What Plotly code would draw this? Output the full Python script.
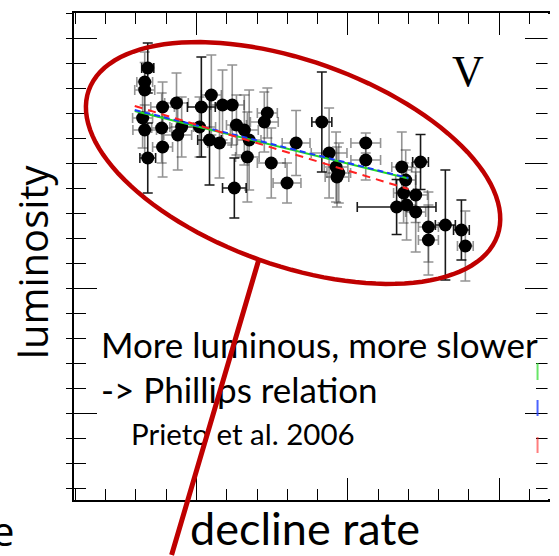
import math
import plotly.graph_objects as go

# ---- data (decline rate, V-band absolute magnitude) ----
decline = [0.839, 0.829, 0.829, 0.822, 0.829, 0.839, 0.888, 0.934, 0.885, 0.888,
           0.938, 0.951, 1.016, 1.049, 1.086, 1.010, 1.043, 1.076, 1.125, 1.118,
           1.132, 1.158, 1.174, 1.168, 1.224, 1.234, 1.247, 1.299, 1.329, 1.414,
           1.438, 1.461, 1.464, 1.470, 1.559, 1.559, 1.678, 1.691, 1.740, 1.684,
           1.724, 1.661, 1.694, 1.724, 1.766, 1.766, 1.822, 1.875, 1.888]
mag_v = [-19.880, -19.824, -19.792, -19.680, -19.632, -19.520, -19.724, -19.740, -19.640, -19.564,
         -19.612, -19.644, -19.724, -19.772, -19.732, -19.644, -19.592, -19.580, -19.400, -19.732,
         -19.652, -19.632, -19.592, -19.524, -19.664, -19.700, -19.500, -19.420, -19.580, -19.664,
         -19.540, -19.484, -19.444, -19.460, -19.580, -19.512, -19.484, -19.432, -19.504, -19.380,
         -19.372, -19.324, -19.332, -19.304, -19.244, -19.192, -19.252, -19.232, -19.168]
err_decline = [0.020, 0.026, 0.033, 0.033, 0.039, 0.026, 0.039, 0.039, 0.033, 0.033,
               0.046, 0.039, 0.046, 0.033, 0.039, 0.053, 0.039, 0.039, 0.039, 0.039,
               0.033, 0.046, 0.039, 0.039, 0.046, 0.033, 0.046, 0.046, 0.046, 0.033,
               0.059, 0.039, 0.039, 0.039, 0.049, 0.049, 0.033, 0.033, 0.026, 0.033,
               0.039, 0.130, 0.033, 0.033, 0.033, 0.033, 0.033, 0.026, 0.026]
err_mag = [0.10, 0.12, 0.11, 0.12, 0.10, 0.14, 0.10, 0.12, 0.14, 0.12,
           0.14, 0.12, 0.20, 0.16, 0.14, 0.12, 0.18, 0.14, 0.12, 0.16,
           0.12, 0.14, 0.20, 0.18, 0.12, 0.10, 0.14, 0.08, 0.13, 0.20,
           0.18, 0.14, 0.12, 0.12, 0.04, 0.08, 0.14, 0.12, 0.11, 0.12,
           0.11, 0.11, 0.14, 0.16, 0.14, 0.14, 0.22, 0.12, 0.14]
# points whose error bars are drawn in solid black in the original
dark_bars = {0, 5, 12, 16, 18, 29, 38, 41, 46, 47}

# fitted Phillips relations
fit_x = [0.796, 1.700]
fit_blue = [-19.712, -19.440]
fit_green = [-19.708, -19.438]
fit_red = [-19.728, -19.396]

# ---- layout geometry (pixels) ----
W, H = 559, 556
L, R, T, B = 74, 550, 13, 500
def pxx(x):
    return (x - L) / (R - L)
def pxy(y):
    return (B - y) / (B - T)

RED = "#bf0000"

fig = go.Figure()
for dark in (False, True):
    idx = [i for i in range(len(decline)) if (i in dark_bars) == dark]
    col = "rgba(0,0,0,0.9)" if dark else "rgba(40,40,40,0.5)"
    fig.add_trace(go.Scatter(
        x=[decline[i] for i in idx], y=[mag_v[i] for i in idx], mode="markers",
        marker=dict(color="black", size=13),
        error_x=dict(type="data", array=[err_decline[i] for i in idx], color=col, thickness=1.6, width=5),
        error_y=dict(type="data", array=[err_mag[i] for i in idx], color=col, thickness=1.6, width=5),
        showlegend=False, hoverinfo="skip"))
fig.add_trace(go.Scatter(x=fit_x, y=fit_green, mode="lines",
                         line=dict(color="#22dd22", width=2), showlegend=False))
fig.add_trace(go.Scatter(x=fit_x, y=fit_blue, mode="lines",
                         line=dict(color="#1a3cff", width=2, dash="6px,4px"), showlegend=False))
fig.add_trace(go.Scatter(x=fit_x, y=fit_red, mode="lines",
                         line=dict(color="#ff2020", width=2, dash="8px,6px"), showlegend=False))

axis_common = dict(showgrid=False, zeroline=False, showticklabels=False,
                   showline=True, linecolor="black", linewidth=1.5,
                   ticks="inside", tickcolor="black", tickwidth=1.3, mirror="ticks")

fig.update_layout(
    width=W, height=H,
    margin=dict(l=L, r=W - R, t=T, b=H - B),
    paper_bgcolor="white", plot_bgcolor="white",
    xaxis=dict(range=[0.5954, 2.161], tick0=0, dtick=0.5, ticklen=22,
               minor=dict(dtick=0.1, ticklen=11, ticks="inside", tickcolor="black", tickwidth=1.2),
               **axis_common),
    yaxis=dict(range=[-18.152, -20.1], tick0=-20, dtick=0.5, ticklen=23,
               minor=dict(dtick=0.1, ticklen=12, ticks="inside", tickcolor="black", tickwidth=1.2),
               **axis_common),
    yaxis2=dict(overlaying="y", side="left", range=[-18.152, -20.1], tick0=-20, dtick=0.5,
                ticks="outside", ticklen=7, tickcolor="black", tickwidth=1.3,
                minor=dict(dtick=0.1, ticklen=7, ticks="outside", tickcolor="black", tickwidth=1.2),
                showgrid=False, zeroline=False, showticklabels=False, showline=False),
)
fig.add_trace(go.Scatter(x=[None], y=[None], yaxis="y2", showlegend=False))

# cover the right frame line (it is hidden in the original)
fig.add_shape(type="line", xref="paper", yref="paper", x0=pxx(550.8), x1=pxx(550.8),
              y0=pxy(T + 1), y1=pxy(B - 1), line=dict(color="white", width=2.5), layer="above")

# legend fragments at the right edge
for col, y0, y1 in [("rgba(40,220,40,0.7)", 363, 380), ("rgba(30,60,255,0.8)", 400, 416),
                    ("rgba(255,40,40,0.6)", 437, 453)]:
    fig.add_shape(type="line", xref="paper", yref="paper", x0=pxx(539.5), x1=pxx(539.5),
                  y0=pxy(y0), y1=pxy(y1), line=dict(color=col, width=2), layer="above")

# red ellipse
cx, cy, a, b, th = 294, 163, 217.7, 102.5, math.radians(19.5)
pts = []
for i in range(121):
    t = 2 * math.pi * i / 120
    x = cx + a * math.cos(t) * math.cos(th) - b * math.sin(t) * math.sin(th)
    y = cy + a * math.cos(t) * math.sin(th) + b * math.sin(t) * math.cos(th)
    pts.append(f"{pxx(x):.5f},{pxy(y):.5f}")
path = "M " + " L ".join(pts) + " Z"
fig.add_shape(type="path", path=path, xref="paper", yref="paper",
              line=dict(color=RED, width=4.5), layer="above")

# texts
def ann(text, x, y, size, family="Lato", xanchor="left", yanchor="middle", angle=0, color="black"):
    fig.add_annotation(text=text, x=pxx(x), y=pxy(y), xref="paper", yref="paper",
                       showarrow=False, xanchor=xanchor, yanchor=yanchor, textangle=angle,
                       font=dict(family=family, size=size, color=color))

ann("V", 470, 71, 44, family="Liberation Serif", xanchor="center")
ann("More luminous, more slower", 99, 344, 35)
ann("-&gt; Phillips relation", 99, 389, 35)
ann("Prieto et al. 2006", 129, 433, 29.5)
ann("decline rate", 305.5, 528, 45, xanchor="center")
ann("luminosity", 32, 262, 40, family="Open Sans", xanchor="center", angle=-90)
ann("e", 16, 530, 40, family="Open Sans", xanchor="right")

# pointer line (drawn as an arrow annotation so it lies above the text)
fig.add_annotation(x=pxx(172), y=pxy(562), xref="paper", yref="paper", text="",
                   showarrow=True, arrowhead=0, arrowwidth=5, arrowcolor=RED,
                   axref="pixel", ayref="pixel", ax=260 - 172, ay=257 - 562, standoff=0, startstandoff=0)

fig.write_html("out.html")
